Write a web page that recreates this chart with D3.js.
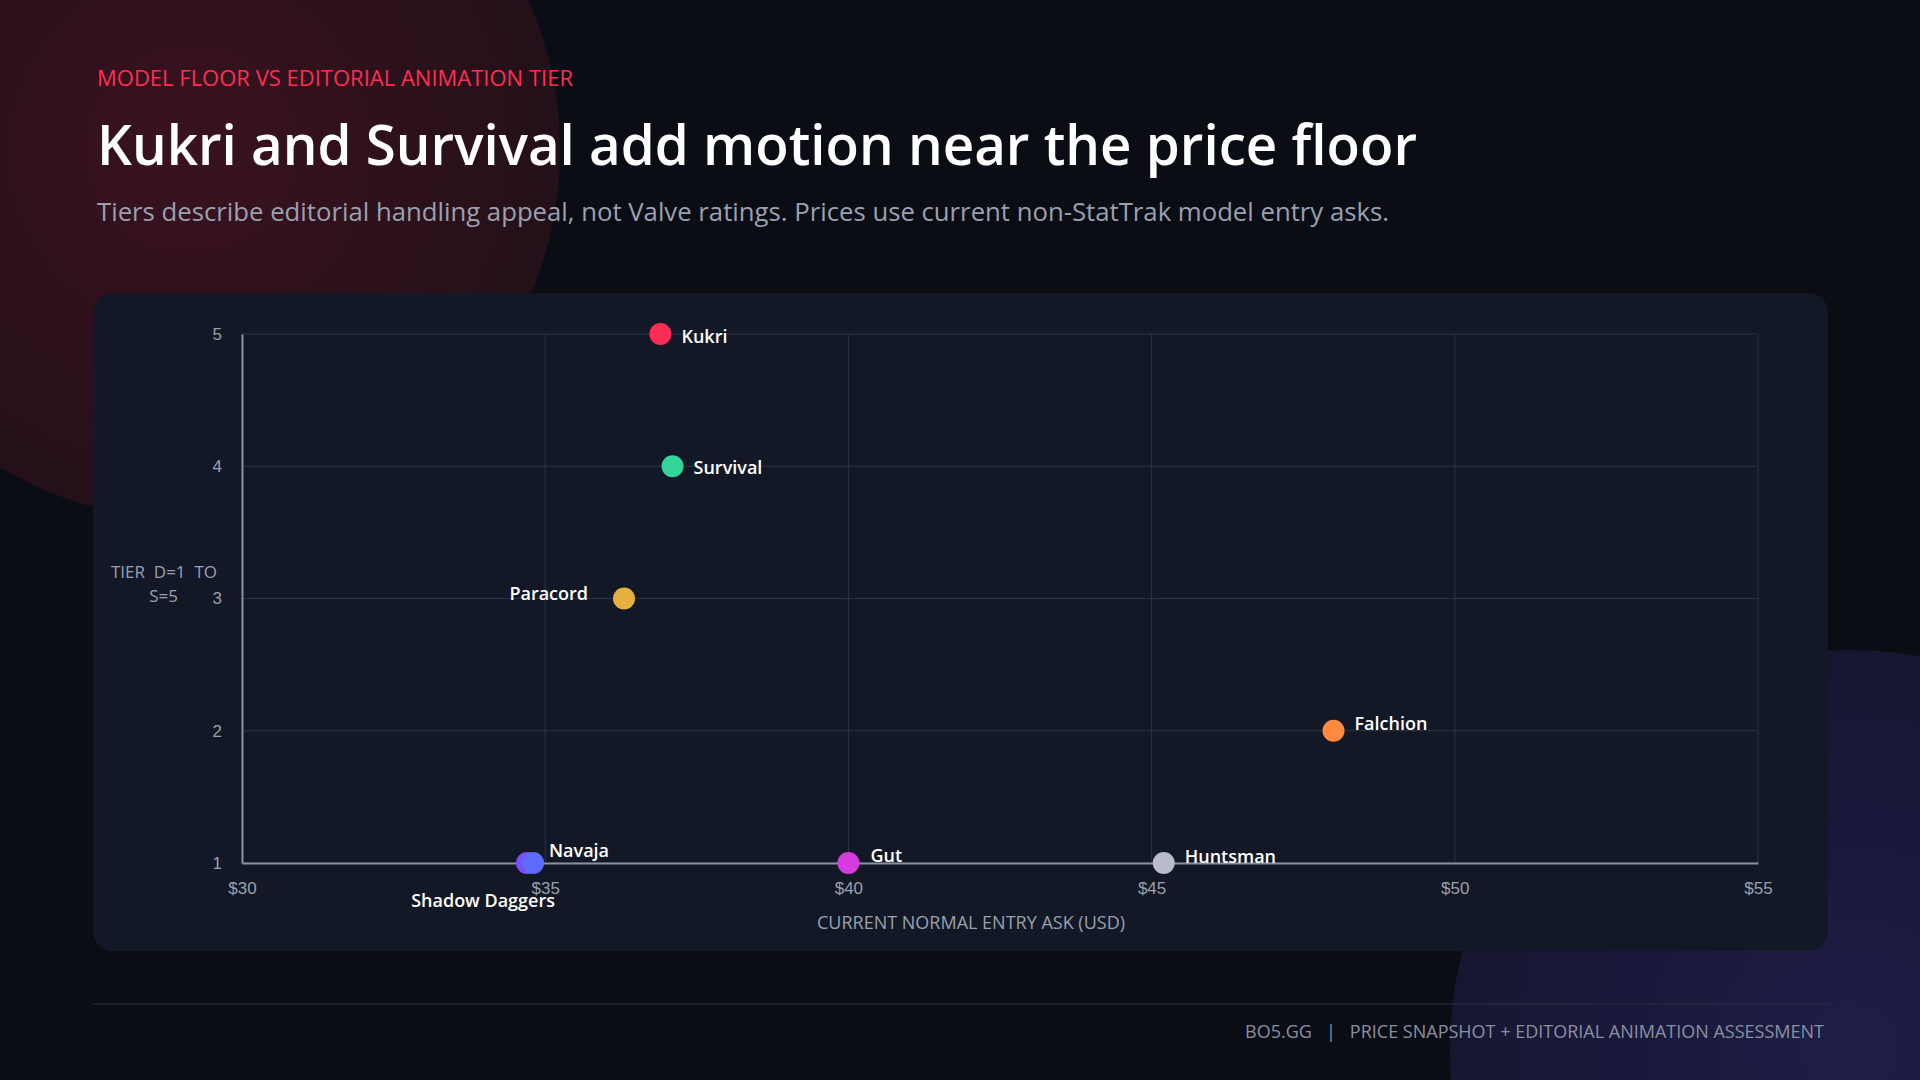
<!DOCTYPE html>
<html><head><meta charset="utf-8">
<script src="https://cdn.jsdelivr.net/npm/d3@7"></script>
<style>
body{margin:0;background:#0b0d14;font-family:"Segoe UI","Open Sans","Noto Sans",sans-serif;}
</style></head>
<body><svg id="c" width="1920" height="1080"></svg>
<script>
const knives = ["Kukri","Survival","Paracord","Falchion","Navaja","Shadow Daggers","Gut","Huntsman"];
const prices = [36.9, 37.1, 36.3, 48.0, 34.7, 34.8, 40.0, 45.2];
const tiers = [5, 4, 3, 2, 1, 1, 1, 1];
const colors = ["#ff2d55","#34d399","#e6b040","#ff8a3d","#7c4dff","#5b6cff","#d63be0","#b8bcc8"];
const xTicks = [30, 35, 40, 45, 50, 55];
const yTicks = [1, 2, 3, 4, 5];

const svg = d3.select("#c");
const defs = svg.append("defs");
const g1 = defs.append("radialGradient").attr("id","red");
g1.append("stop").attr("offset","0%").attr("stop-color","#3a1220");
g1.append("stop").attr("offset","100%").attr("stop-color","#241018");
const g2 = defs.append("radialGradient").attr("id","blue");
g2.append("stop").attr("offset","0%").attr("stop-color","#1e1d48");
g2.append("stop").attr("offset","100%").attr("stop-color","#171631");

svg.append("rect").attr("width",1920).attr("height",1080).attr("fill","#0b0d14");
svg.append("circle").attr("cx",190).attr("cy",150).attr("r",370).attr("fill","url(#red)");
svg.append("circle").attr("cx",1850).attr("cy",1050).attr("r",400).attr("fill","url(#blue)");

svg.append("text").attr("x",97).attr("y",86).attr("fill","#ff2d55").attr("font-size",22).attr("font-weight",500)
  .text("MODEL FLOOR VS EDITORIAL ANIMATION TIER");
svg.append("text").attr("x",97).attr("y",165).attr("fill","#fff").attr("font-size",56).attr("font-weight",600)
  .attr("textLength",1320).attr("lengthAdjust","spacingAndGlyphs")
  .text("Kukri and Survival add motion near the price floor");
svg.append("text").attr("x",97).attr("y",221).attr("fill","#9aa0b0").attr("font-size",26)
  .attr("textLength",1292).attr("lengthAdjust","spacingAndGlyphs")
  .text("Tiers describe editorial handling appeal, not Valve ratings. Prices use current non-StatTrak model entry asks.");

svg.append("rect").attr("x",93).attr("y",293).attr("width",1735).attr("height",658).attr("rx",20).attr("fill","#131826");

const x = d3.scaleLinear().domain([30,55]).range([242,1758]);
const y = d3.scaleLinear().domain([1,5]).range([863,334]);

const grid = svg.append("g").attr("stroke","#2c3344").attr("stroke-width",1);
grid.selectAll(".v").data(xTicks).join("line").attr("x1",d=>x(d)).attr("x2",d=>x(d)).attr("y1",y(5)).attr("y2",y(1));
grid.selectAll(".h").data(yTicks).join("line").attr("y1",d=>y(d)).attr("y2",d=>y(d)).attr("x1",x(30)).attr("x2",x(55));

const xa = svg.append("g").attr("transform",`translate(0,${y(1)})`)
  .call(d3.axisBottom(x).tickValues(xTicks).tickSize(0).tickPadding(19).tickFormat(d=>"$"+d));
const ya = svg.append("g").attr("transform",`translate(${x(30)},0)`)
  .call(d3.axisLeft(y).tickValues(yTicks).tickSize(0).tickPadding(20).tickFormat(d3.format("d")));
[xa,ya].forEach(a=>{
  a.select(".domain").attr("stroke","#8a90a0").attr("stroke-width",2);
  a.selectAll("text").attr("fill","#9aa0b0").attr("font-size",17).attr("font-family","inherit");
});

svg.append("text").attr("x",971).attr("y",929).attr("text-anchor","middle").attr("fill","#9aa0b0").attr("font-size",18).attr("font-weight",500)
  .text("CURRENT NORMAL ENTRY ASK (USD)");
const yl = svg.append("text").attr("text-anchor","end").attr("fill","#9aa0b0").attr("font-size",17).attr("xml:space","preserve");
yl.append("tspan").attr("x",217).attr("y",578).text("TIER  D=1  TO");
yl.append("tspan").attr("x",178).attr("y",602).text("S=5");

const data = knives.map((k,i)=>({k, p:prices[i], t:tiers[i], c:colors[i]}));
const off = {"Kukri":[21,9,"start"],"Survival":[21,8,"start"],"Paracord":[-36,1,"end"],"Falchion":[21,-1,"start"],
  "Navaja":[22,-6,"start"],"Shadow Daggers":[-50,44,"middle"],"Gut":[22,-1,"start"],"Huntsman":[21,0,"start"]};
const pts = svg.append("g");
pts.selectAll("circle").data(data).join("circle")
  .attr("cx",d=>x(d.p)).attr("cy",d=>y(d.t)).attr("r",11).attr("fill",d=>d.c);
pts.selectAll("text").data(data).join("text")
  .attr("x",d=>x(d.p)+off[d.k][0])
  .attr("y",d=>y(d.t)+off[d.k][1])
  .attr("text-anchor",d=>off[d.k][2])
  .attr("fill","#fff").attr("font-size",18).attr("font-weight",600).text(d=>d.k);

svg.append("line").attr("x1",92).attr("x2",1828).attr("y1",1004).attr("y2",1004).attr("stroke","#2a2f3c");
svg.append("text").attr("x",1824).attr("y",1038).attr("text-anchor","end").attr("fill","#8a90a0").attr("font-size",18).attr("font-weight",500)
  .attr("xml:space","preserve").text("BO5.GG   |   PRICE SNAPSHOT + EDITORIAL ANIMATION ASSESSMENT");
</script></body></html>
